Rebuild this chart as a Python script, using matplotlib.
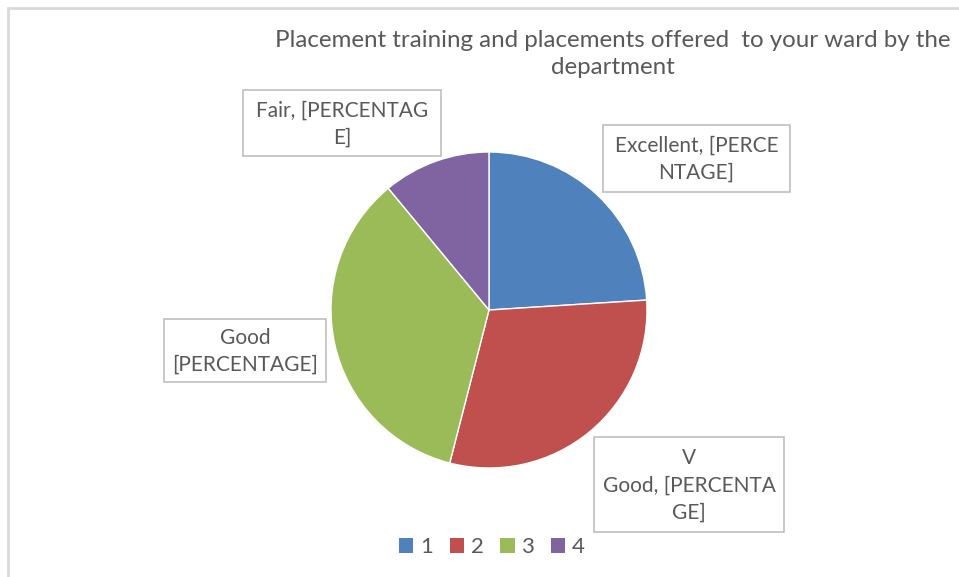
import matplotlib
matplotlib.use("Agg")
import matplotlib.pyplot as plt
import matplotlib.patches as patches

plt.rcParams["font.family"] = ["Lato", "DejaVu Sans"]

# data
categories = ["1", "2", "3", "4"]
values = [24, 30, 35, 11]
labels = ["Excellent, [PERCE\nNTAGE]", "V\nGood, [PERCENTA\nGE]",
          "Good\n[PERCENTAGE]", "Fair, [PERCENTAG\nE]"]
colors = ["#4F81BD", "#C0504D", "#9BBB59", "#8064A2"]
title = "Placement training and placements offered  to your ward by the\ndepartment"

W, H = 959, 577
fig = plt.figure(figsize=(W / 100, H / 100), dpi=100, facecolor="white")


def fx(px):
    return px / W


def fy(py):
    return 1 - py / H


# chart frame
frame = patches.Rectangle((fx(8), fy(H + 20)), fx(W + 20), (H + 12) / H,
                          transform=fig.transFigure, fill=False,
                          edgecolor="#D9D9D9", linewidth=2)
fig.patches.append(frame)

# pie
cx, cy, r = 489, 310, 158
ax = fig.add_axes([fx(cx - r), fy(cy + r), 2 * r / W, 2 * r / H])
ax.pie(values, colors=colors, startangle=90, counterclock=False, radius=1,
       wedgeprops=dict(linewidth=1, edgecolor="white"))
ax.set_xlim(-1, 1)
ax.set_ylim(-1, 1)
ax.set_aspect("auto")
ax.axis("off")

fig.text(fx(613), fy(54), title, ha="center", va="center", fontsize=17.4,
         color="#595959", linespacing=1.33)

# data label boxes (pixel boxes from the reference)
boxes = [(603, 125, 790, 192), (594, 437, 784, 532),
         (164, 319, 326, 382), (243, 90, 441, 156)]
for lab, (x0, y0, x1, y1) in zip(labels, boxes):
    rect = patches.Rectangle((fx(x0), fy(y1)), fx(x1 - x0), (y1 - y0) / H,
                             transform=fig.transFigure, facecolor="white",
                             edgecolor="#BFBFBF", linewidth=1.2)
    fig.patches.append(rect)
    fig.text(fx((x0 + x1) / 2), fy((y0 + y1) / 2 + 1), lab, ha="center",
             va="center", fontsize=15, color="#595959", linespacing=1.45)

handles = [patches.Patch(facecolor=c, edgecolor="none") for c in colors]
leg = fig.legend(handles, categories, loc="center", ncol=4, frameon=False,
                 bbox_to_anchor=(fx(492), fy(547)), fontsize=16,
                 handlelength=0.65, handleheight=0.65, handletextpad=0.3,
                 columnspacing=0.75)
for t in leg.get_texts():
    t.set_color("#595959")

fig.savefig("out.png", dpi=100, facecolor="white")
